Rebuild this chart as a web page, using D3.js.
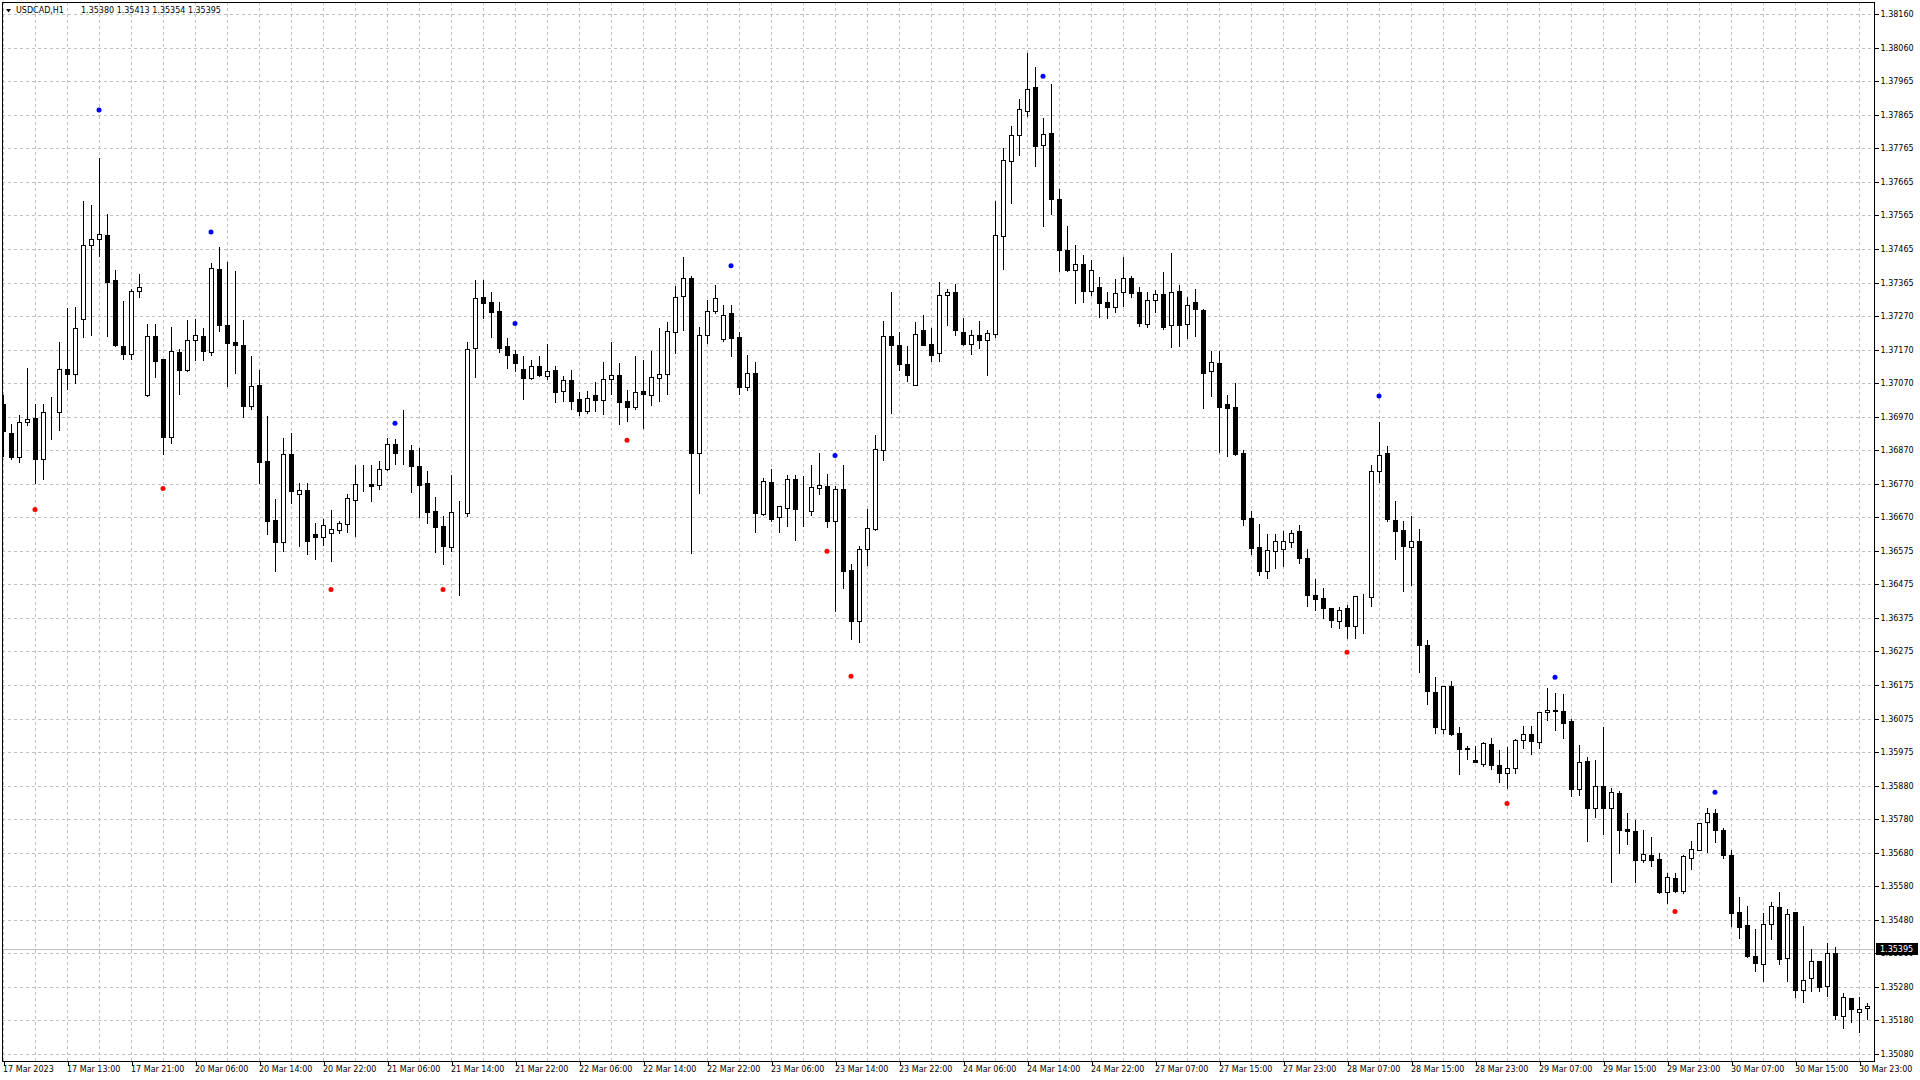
<!DOCTYPE html>
<html><head><meta charset="utf-8">
<script src="https://cdn.jsdelivr.net/npm/d3@7"></script>
<style>html,body{margin:0;padding:0;background:#fff;overflow:hidden}svg{display:block}</style>
</head><body>
<svg id="c" width="1920" height="1080"></svg>
<script>
const symbolTitle = "USDCAD,H1";
const headerValues = ["1.35380", "1.35413", "1.35354", "1.35395"];
const bidPrice = 1.35395;
const bidLabel = "1.35395";

const priceTicks = ["1.38160","1.38060","1.37965","1.37865","1.37765","1.37665","1.37565","1.37465","1.37365","1.37270","1.37170","1.37070","1.36970","1.36870","1.36770","1.36670","1.36575","1.36475","1.36375","1.36275","1.36175","1.36075","1.35975","1.35880","1.35780","1.35680","1.35580","1.35480","1.35380","1.35280","1.35180","1.35080"];

const timeLabels = ["17 Mar 2023","17 Mar 13:00","17 Mar 21:00","20 Mar 06:00","20 Mar 14:00","20 Mar 22:00","21 Mar 06:00","21 Mar 14:00","21 Mar 22:00","22 Mar 06:00","22 Mar 14:00","22 Mar 22:00","23 Mar 06:00","23 Mar 14:00","23 Mar 22:00","24 Mar 06:00","24 Mar 14:00","24 Mar 22:00","27 Mar 07:00","27 Mar 15:00","27 Mar 23:00","28 Mar 07:00","28 Mar 15:00","28 Mar 23:00","29 Mar 07:00","29 Mar 15:00","29 Mar 23:00","30 Mar 07:00","30 Mar 15:00","30 Mar 23:00"];

const opens = [1.37005,1.36918,1.36847,1.36951,1.36963,1.36843,1.36981,1.36982,1.37108,1.37093,1.37256,1.37476,1.37494,1.37506,1.37373,1.37177,1.37152,1.37340,1.37033,1.37206,
1.37138,1.36908,1.37159,1.37106,1.37196,1.37208,1.37160,1.37406,1.37239,1.37188,1.37180,1.37000,1.37063,1.36836,1.36662,1.36595,1.36856,1.36740,1.36750,1.36620,
1.36610,1.36622,1.36631,1.36650,1.36720,1.36767,1.36769,1.36764,1.36812,1.36886,1.36866,1.36868,1.36821,1.36771,1.36688,1.36644,1.36583,1.36685,1.36682,1.37170,
1.37322,1.37307,1.37280,1.37176,1.37152,1.37109,1.37083,1.37118,1.37089,1.37106,1.37044,1.37075,1.37019,1.36985,1.37032,1.37018,1.37078,1.37091,1.37014,1.36997,
1.37043,1.37031,1.37083,1.37095,1.37219,1.37324,1.37378,1.36861,1.37211,1.37281,1.37199,1.37274,1.37203,1.37056,1.37097,1.36680,1.36774,1.36670,1.36696,1.36782,
1.36695,1.36689,1.36755,1.36761,1.36660,1.36752,1.36513,1.36361,1.36577,1.36634,1.36870,1.37206,1.37179,1.37125,1.37063,1.37223,1.37182,1.37155,1.37327,1.37337,
1.37220,1.37184,1.37211,1.37195,1.37212,1.37504,1.37724,1.37803,1.37874,1.37944,1.37774,1.37808,1.37613,1.37461,1.37401,1.37420,1.37341,1.37352,1.37307,1.37293,
1.37338,1.37378,1.37337,1.37243,1.37312,1.37331,1.37240,1.37340,1.37243,1.37306,1.37285,1.37102,1.37128,1.37005,1.36995,1.36860,1.36667,1.36581,1.36511,1.36569,
1.36577,1.36596,1.36628,1.36548,1.36439,1.36430,1.36400,1.36362,1.36400,1.36349,1.36433,1.36433,1.36808,1.36860,1.36661,1.36632,1.36581,1.36599,1.36291,1.36153,
1.36043,1.36170,1.36030,1.35987,1.35950,1.35940,1.35997,1.35935,1.35911,1.35927,1.36009,1.36029,1.36003,1.36094,1.36100,1.36097,1.36066,1.35865,1.35949,1.35807,
1.35875,1.35807,1.35852,1.35746,1.35740,1.35655,1.35668,1.35657,1.35561,1.35600,1.35563,1.35661,1.35685,1.35766,1.35793,1.35742,1.35669,1.35500,1.35461,1.35369,
1.35346,1.35466,1.35514,1.35365,1.35500,1.35268,1.35306,1.35355,1.35282,1.35378,1.35192,1.35246,1.35204,1.35215];

const highs = [1.37032,1.36946,1.36973,1.37111,1.37005,1.37005,1.37026,1.37189,1.37289,1.37292,1.37607,1.37595,1.37734,1.37569,1.37403,1.37310,1.37346,1.37391,1.37243,1.37243,
1.37140,1.37233,1.37169,1.37254,1.37257,1.37229,1.37423,1.37471,1.37426,1.37400,1.37254,1.37147,1.37106,1.36969,1.36724,1.36904,1.36918,1.36771,1.36771,1.36653,
1.36665,1.36691,1.36659,1.36739,1.36824,1.36824,1.36824,1.36835,1.36904,1.36901,1.36987,1.36883,1.36875,1.36807,1.36729,1.36673,1.36795,1.36719,1.37188,1.37373,
1.37373,1.37337,1.37307,1.37200,1.37165,1.37147,1.37135,1.37147,1.37183,1.37118,1.37089,1.37106,1.37040,1.37045,1.37069,1.37129,1.37188,1.37126,1.37048,1.37147,
1.37135,1.37162,1.37230,1.37248,1.37355,1.37441,1.37385,1.37233,1.37313,1.37359,1.37299,1.37299,1.37218,1.37150,1.37129,1.36786,1.36814,1.36702,1.36794,1.36794,
1.36792,1.36824,1.36860,1.36797,1.36761,1.36824,1.36530,1.36584,1.36694,1.36913,1.37251,1.37337,1.37218,1.37177,1.37248,1.37270,1.37230,1.37367,1.37346,1.37361,
1.37260,1.37224,1.37251,1.37224,1.37607,1.37765,1.37829,1.37908,1.38046,1.38004,1.37853,1.37953,1.37643,1.37533,1.37477,1.37447,1.37432,1.37382,1.37337,1.37376,
1.37441,1.37385,1.37352,1.37337,1.37342,1.37397,1.37453,1.37358,1.37323,1.37346,1.37288,1.37162,1.37162,1.37032,1.37068,1.36868,1.36687,1.36650,1.36620,1.36620,
1.36628,1.36632,1.36646,1.36575,1.36488,1.36459,1.36401,1.36403,1.36410,1.36436,1.36443,1.36826,1.36951,1.36881,1.36718,1.36659,1.36674,1.36634,1.36307,1.36197,
1.36170,1.36185,1.36047,1.35992,1.35992,1.36005,1.36015,1.35980,1.35990,1.36013,1.36051,1.36051,1.36094,1.36163,1.36149,1.36146,1.36071,1.35994,1.35961,1.35950,
1.36048,1.35869,1.35858,1.35793,1.35773,1.35743,1.35722,1.35676,1.35617,1.35616,1.35668,1.35711,1.35763,1.35808,1.35805,1.35748,1.35684,1.35545,1.35518,1.35450,
1.35497,1.35529,1.35561,1.35509,1.35500,1.35458,1.35391,1.35355,1.35409,1.35396,1.35261,1.35246,1.35248,1.35230];

const lows = [1.36852,1.36841,1.36834,1.36943,1.36771,1.36784,1.36902,1.36929,1.37050,1.37068,1.37204,1.37210,1.37444,1.37207,1.37178,1.37139,1.37139,1.37321,1.37030,1.37086,
1.36857,1.36891,1.37035,1.37104,1.37137,1.37137,1.37151,1.37222,1.37059,1.37098,1.36967,1.36991,1.36771,1.36621,1.36511,1.36571,1.36713,1.36585,1.36562,1.36546,
1.36588,1.36540,1.36622,1.36627,1.36614,1.36748,1.36719,1.36754,1.36810,1.36827,1.36827,1.36745,1.36671,1.36653,1.36568,1.36530,1.36570,1.36438,1.36672,1.37086,
1.37261,1.37204,1.37160,1.37112,1.37103,1.37021,1.37080,1.37089,1.37079,1.37012,1.37015,1.36990,1.36973,1.36979,1.36984,1.36976,1.37035,1.36947,1.36955,1.36991,
1.36934,1.37003,1.37014,1.37035,1.37156,1.37225,1.36565,1.36741,1.37185,1.37275,1.37192,1.37147,1.37036,1.37048,1.36627,1.36677,1.36660,1.36627,1.36645,1.36603,
1.36644,1.36677,1.36739,1.36642,1.36392,1.36461,1.36310,1.36301,1.36528,1.36632,1.36840,1.36979,1.37106,1.37074,1.37062,1.37180,1.37133,1.37133,1.37239,1.37210,
1.37179,1.37154,1.37172,1.37092,1.37203,1.37406,1.37601,1.37743,1.37859,1.37711,1.37534,1.37569,1.37398,1.37398,1.37305,1.37308,1.37329,1.37264,1.37261,1.37278,
1.37296,1.37321,1.37237,1.37234,1.37278,1.37228,1.37174,1.37178,1.37200,1.37206,1.36993,1.37029,1.36864,1.36851,1.36855,1.36648,1.36562,1.36499,1.36491,1.36520,
1.36526,1.36583,1.36534,1.36408,1.36396,1.36370,1.36346,1.36343,1.36313,1.36313,1.36328,1.36408,1.36775,1.36660,1.36546,1.36452,1.36470,1.36210,1.36117,1.36031,
1.36031,1.36024,1.35910,1.35955,1.35945,1.35932,1.35925,1.35886,1.35868,1.35913,1.35987,1.35968,1.35987,1.36070,1.36040,1.36016,1.35845,1.35847,1.35711,1.35782,
1.35732,1.35590,1.35676,1.35702,1.35590,1.35649,1.35637,1.35557,1.35528,1.35559,1.35557,1.35629,1.35683,1.35677,1.35709,1.35661,1.35458,1.35424,1.35368,1.35326,
1.35297,1.35421,1.35346,1.35297,1.35250,1.35235,1.35267,1.35267,1.35253,1.35183,1.35156,1.35174,1.35146,1.35183];

const closes = [1.36926,1.36847,1.36951,1.36960,1.36843,1.36981,1.36982,1.37108,1.37095,1.37229,1.37476,1.37494,1.37508,1.37367,1.37180,1.37154,1.37340,1.37351,1.37206,1.37133,
1.36908,1.37161,1.37106,1.37196,1.37211,1.37163,1.37408,1.37240,1.37186,1.37181,1.37000,1.37060,1.36834,1.36660,1.36595,1.36856,1.36748,1.36750,1.36598,1.36612,
1.36646,1.36634,1.36653,1.36727,1.36767,1.36767,1.36763,1.36812,1.36886,1.36861,1.36866,1.36822,1.36766,1.36686,1.36642,1.36586,1.36685,1.36685,1.37167,1.37319,
1.37305,1.37278,1.37172,1.37151,1.37128,1.37083,1.37118,1.37091,1.37102,1.37041,1.37075,1.37015,1.36985,1.37024,1.37018,1.37078,1.37090,1.37011,1.36997,1.37040,
1.37035,1.37085,1.37093,1.37221,1.37322,1.37378,1.36861,1.37211,1.37280,1.37319,1.37270,1.37201,1.37055,1.37096,1.36683,1.36777,1.36666,1.36702,1.36782,1.36695,
1.36695,1.36758,1.36764,1.36660,1.36752,1.36511,1.36361,1.36575,1.36637,1.36871,1.37206,1.37181,1.37123,1.37092,1.37214,1.37181,1.37151,1.37327,1.37337,1.37223,
1.37184,1.37211,1.37195,1.37217,1.37505,1.37727,1.37801,1.37878,1.37937,1.37770,1.37804,1.37613,1.37460,1.37401,1.37420,1.37341,1.37403,1.37305,1.37293,1.37335,
1.37380,1.37333,1.37246,1.37312,1.37331,1.37234,1.37337,1.37240,1.37300,1.37287,1.37098,1.37131,1.36997,1.36994,1.36858,1.36666,1.36580,1.36511,1.36572,1.36599,
1.36599,1.36622,1.36549,1.36438,1.36429,1.36402,1.36364,1.36394,1.36349,1.36436,1.36433,1.36807,1.36853,1.36666,1.36630,1.36584,1.36599,1.36290,1.36155,1.36049,
1.36170,1.36027,1.35984,1.35982,1.35946,1.36000,1.35937,1.35913,1.35926,1.36010,1.36029,1.36008,1.36094,1.36100,1.36096,1.36061,1.35865,1.35946,1.35809,1.35873,
1.35809,1.35855,1.35744,1.35739,1.35655,1.35671,1.35655,1.35559,1.35603,1.35563,1.35665,1.35686,1.35763,1.35793,1.35744,1.35670,1.35498,1.35456,1.35369,1.35348,
1.35464,1.35517,1.35362,1.35493,1.35270,1.35298,1.35355,1.35278,1.35378,1.35194,1.35248,1.35212,1.35212,1.35221];

// indicator dots: bar index and price
const upMarkerBars   = [12, 26, 49, 64, 91, 104, 130, 172, 194, 214];
const upMarkerPrices = [1.37876, 1.37515, 1.36948, 1.37244, 1.37415, 1.36853, 1.37976, 1.37029, 1.36196, 1.35855];
const downMarkerBars   = [4, 20, 41, 55, 78, 103, 106, 168, 188, 209];
const downMarkerPrices = [1.36693, 1.36755, 1.36456, 1.36456, 1.36898, 1.36569, 1.36199, 1.36270, 1.35822, 1.35502];

// ---------- layout ----------
const FL = 2, FT = 2, FR = 1874, FB = 1061;
const FONT = "DejaVu Sans, Verdana, sans-serif";
const n = opens.length;
const svg = d3.select("#c");

const x = d3.scaleLinear().domain([0, n - 1]).range([3.5, 3.5 + 8 * (n - 1)]);
const pTop = +priceTicks[0], pBot = +priceTicks[priceTicks.length - 1];
const y = d3.scaleLinear().domain([pBot, pTop]).range([1053.9, 14.2]);
const tickVals = priceTicks.map((t, k) => pTop - k * (pTop - pBot) / (priceTicks.length - 1));
const labelBars = timeLabels.map((t, k) => k * 8);

svg.append("rect").attr("width", 1920).attr("height", 1080).attr("fill", "#fff");

svg.append("defs").append("clipPath").attr("id", "plot")
  .append("rect").attr("x", FL + 1).attr("y", FT + 1).attr("width", FR - FL - 1).attr("height", FB - FT - 1);

// grid
const grid = svg.append("g").attr("stroke", "#c0c0c0").attr("stroke-dasharray", "3,3")
  .attr("shape-rendering", "crispEdges").attr("clip-path", "url(#plot)");
grid.selectAll("line.h").data(tickVals).join("line").attr("class", "h")
  .attr("x1", FL).attr("x2", FR)
  .attr("y1", d => Math.round(y(d)) + 0.5).attr("y2", d => Math.round(y(d)) + 0.5);
const vBars = d3.range(0, n, 4);
grid.selectAll("line.v").data(vBars).join("line").attr("class", "v")
  .attr("y1", FT).attr("y2", FB)
  .attr("x1", d => x(d)).attr("x2", d => x(d));

// bid line
const bidY = Math.round(y(bidPrice)) + 1.5;
svg.append("line").attr("x1", FL).attr("x2", FR).attr("y1", bidY).attr("y2", bidY)
  .attr("stroke", "#c0c0c0").attr("shape-rendering", "crispEdges");

// candles
const bars = d3.range(n).map(i => ({ i, o: opens[i], h: highs[i], l: lows[i], c: closes[i] }));
const cg = svg.append("g").attr("clip-path", "url(#plot)").attr("shape-rendering", "crispEdges");
cg.selectAll("line.w").data(bars).join("line").attr("class", "w")
  .attr("x1", d => x(d.i)).attr("x2", d => x(d.i))
  .attr("y1", d => Math.round(y(d.h))).attr("y2", d => Math.round(y(d.l)) + 1)
  .attr("stroke", "#000");
cg.selectAll("rect.b").data(bars).join("rect").attr("class", "b")
  .each(function (d) {
    const up = d.c >= d.o;
    const t = Math.round(y(Math.max(d.o, d.c)));
    const b = Math.round(y(Math.min(d.o, d.c)));
    const s = d3.select(this);
    if (up) {
      s.attr("x", x(d.i) - 2).attr("width", 4)
        .attr("y", t + 0.5).attr("height", Math.max(0, b - t))
        .attr("fill", "#fff").attr("stroke", "#000");
    } else {
      s.attr("x", x(d.i) - 2.5).attr("width", 5)
        .attr("y", t).attr("height", Math.max(1, b - t + 1))
        .attr("fill", "#000");
    }
  });

// indicator dots
const dg = svg.append("g").attr("clip-path", "url(#plot)");
dg.selectAll("circle.u").data(upMarkerBars).join("circle").attr("class", "u")
  .attr("cx", d => x(d) - 0.5).attr("cy", (d, k) => y(upMarkerPrices[k])).attr("r", 2.5).attr("fill", "#0000ff");
dg.selectAll("circle.d").data(downMarkerBars).join("circle").attr("class", "d")
  .attr("cx", d => x(d) - 0.5).attr("cy", (d, k) => y(downMarkerPrices[k])).attr("r", 2.5).attr("fill", "#ff0000");

// frame
svg.append("rect").attr("x", FL + 0.5).attr("y", FT + 0.5).attr("width", FR - FL).attr("height", FB - FT)
  .attr("fill", "none").attr("stroke", "#000").attr("shape-rendering", "crispEdges");

// right price axis
const yAxis = d3.axisRight(y).tickValues(tickVals).tickFormat((d, k) => priceTicks[k]).tickSize(4).tickPadding(2);
const ya = svg.append("g").attr("transform", `translate(${FR + 0.5},0)`).call(yAxis);
ya.select(".domain").remove();
ya.selectAll(".tick line").attr("stroke", "#000").attr("shape-rendering", "crispEdges");
ya.selectAll(".tick text").attr("font-family", FONT).attr("font-size", 8).attr("fill", "#000");

// bid label (covers the 1.35380 tick label, as in the terminal)
const bg = svg.append("g");
bg.append("rect").attr("x", FR + 2).attr("y", bidY - 6.5).attr("width", 42).attr("height", 12).attr("fill", "#000");
bg.append("text").attr("x", FR + 6).attr("y", bidY).attr("dy", "0.35em")
  .attr("font-family", FONT).attr("font-size", 8).attr("fill", "#fff").text(bidLabel);

// bottom time axis
const xAxis = d3.axisBottom(x).tickValues(labelBars).tickFormat((d, k) => timeLabels[k]).tickSize(4).tickPadding(3);
const xa = svg.append("g").attr("transform", `translate(0,${FB + 0.5})`).call(xAxis);
xa.select(".domain").remove();
xa.selectAll(".tick line").attr("stroke", "#000").attr("shape-rendering", "crispEdges");
xa.selectAll(".tick text").attr("font-family", FONT).attr("font-size", 8).attr("fill", "#000")
  .attr("text-anchor", "start").attr("x", -1).attr("y", 5).attr("dy", "0.71em");

// title
const tg = svg.append("g");
tg.append("path").attr("d", "M6,9 L11,9 L8.5,12.5 Z").attr("fill", "#000");
tg.append("text").attr("x", 16).attr("y", 13).attr("font-family", FONT).attr("font-size", 8).attr("fill", "#000")
  .text(symbolTitle);
tg.append("text").attr("x", 81).attr("y", 13).attr("font-family", FONT).attr("font-size", 8).attr("fill", "#000")
  .text(headerValues.join(" "));
</script>
</body></html>
